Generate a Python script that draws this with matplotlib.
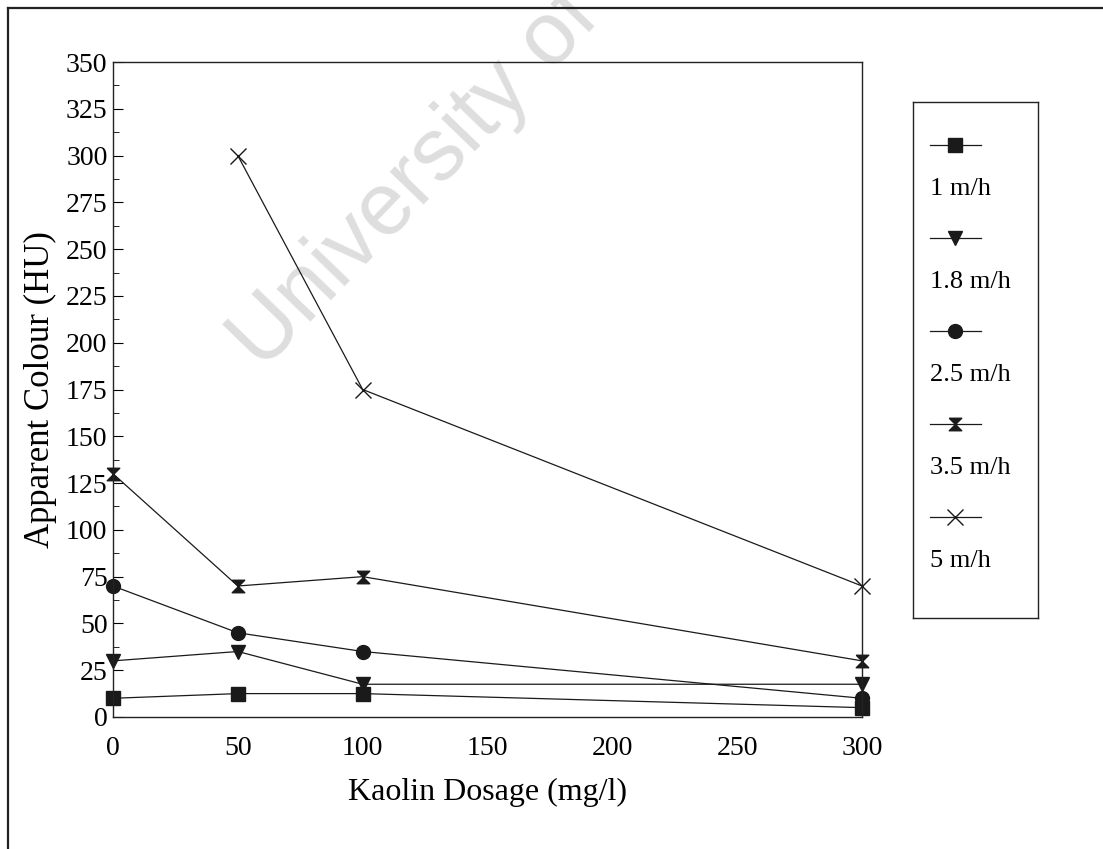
import matplotlib
matplotlib.use("Agg")
import matplotlib.pyplot as plt
from matplotlib.lines import Line2D
from matplotlib.ticker import MultipleLocator

plt.rcParams['font.family'] = ['Liberation Serif', 'DejaVu Serif']

# data
dosage = [0, 50, 100, 300]
series_names = ['1 m/h', '1.8 m/h', '2.5 m/h', '3.5 m/h', '5 m/h']
colour_1 = [10, 12.5, 12.5, 5]
colour_18 = [30, 35, 17.5, 17.5]
colour_25 = [70, 45, 35, 10]
colour_35 = [130, 70, 75, 30]
dosage_5 = [50, 100, 300]
colour_5 = [300, 175, 70]
x_ticks = [0, 50, 100, 150, 200, 250, 300]

# hourglass marker like the old Excel one
hourglass = [(-1, 1), (1, 1), (-1, -1), (1, -1), (-1, 1)]

styles = [
    dict(marker='s', ms=10),
    dict(marker='v', ms=10),
    dict(marker='o', ms=10),
    dict(marker=hourglass, ms=9),
    dict(marker='x', ms=11, mew=1.0),
]

fig = plt.figure(figsize=(11.03, 8.49), dpi=100)

# faint watermark (runs off the top of the page)
fig.text(262 / 1103, 1 - 372 / 849, 'University of', fontsize=64, rotation=46,
         rotation_mode='anchor', color='#dedede', family='Liberation Sans',
         ha='left', va='baseline', zorder=-1)

# outer frame (top and left edges only are visible in the scan)
fig.add_artist(Line2D([8 / 1103, 8 / 1103], [0, 1 - 8 / 849], color='#222222', lw=1.6))
fig.add_artist(Line2D([8 / 1103, 1], [1 - 8 / 849, 1 - 8 / 849], color='#222222', lw=1.6))

ax = fig.add_axes([113 / 1103, 1 - 717 / 849, 749 / 1103, 655 / 849])
ax.patch.set_alpha(0)

xs = [dosage, dosage, dosage, dosage, dosage_5]
ys = [colour_1, colour_18, colour_25, colour_35, colour_5]
for x, y, st, name in zip(xs, ys, styles, series_names):
    ax.plot(x, y, color='#1a1a1a', lw=0.9, mfc='#1a1a1a', mec='#1a1a1a',
            label=name, clip_on=False, **st)

ax.set_xlim(0, 300)
ax.set_ylim(0, 350)
ax.set_xticks(x_ticks)
ax.yaxis.set_major_locator(MultipleLocator(25))
ax.yaxis.set_minor_locator(MultipleLocator(12.5))
ax.tick_params(axis='y', direction='in', length=7, width=0.8, labelsize=20, pad=4)
ax.tick_params(axis='y', which='minor', direction='in', length=4, width=0.6)
ax.tick_params(axis='x', length=0, labelsize=20, pad=14)
for sp in ax.spines.values():
    sp.set_linewidth(1.0)
    sp.set_color('#222222')
ax.set_xlabel('Kaolin Dosage (mg/l)', fontsize=23, labelpad=12)
ax.set_ylabel('Apparent Colour (HU)', fontsize=25, labelpad=6)

# legend: sample line above each label, in a boxed panel
lax = fig.add_axes([913 / 1103, 1 - 618 / 849, 125 / 1103, 516 / 849])
lax.set_xlim(0, 125)
lax.set_ylim(516, 0)
lax.set_xticks([])
lax.set_yticks([])
for sp in lax.spines.values():
    sp.set_linewidth(1.0)
    sp.set_color('#222222')
for i, (st, name) in enumerate(zip(styles, series_names)):
    yy = 43 + i * 93
    lax.plot([17, 68], [yy, yy], color='#1a1a1a', lw=0.9)
    lax.plot([42], [yy], color='#1a1a1a', mfc='#1a1a1a', mec='#1a1a1a', **st)
    lax.text(17, yy + 44, name, fontsize=19, va='center', ha='left')

fig.savefig('out.png', dpi=100)
